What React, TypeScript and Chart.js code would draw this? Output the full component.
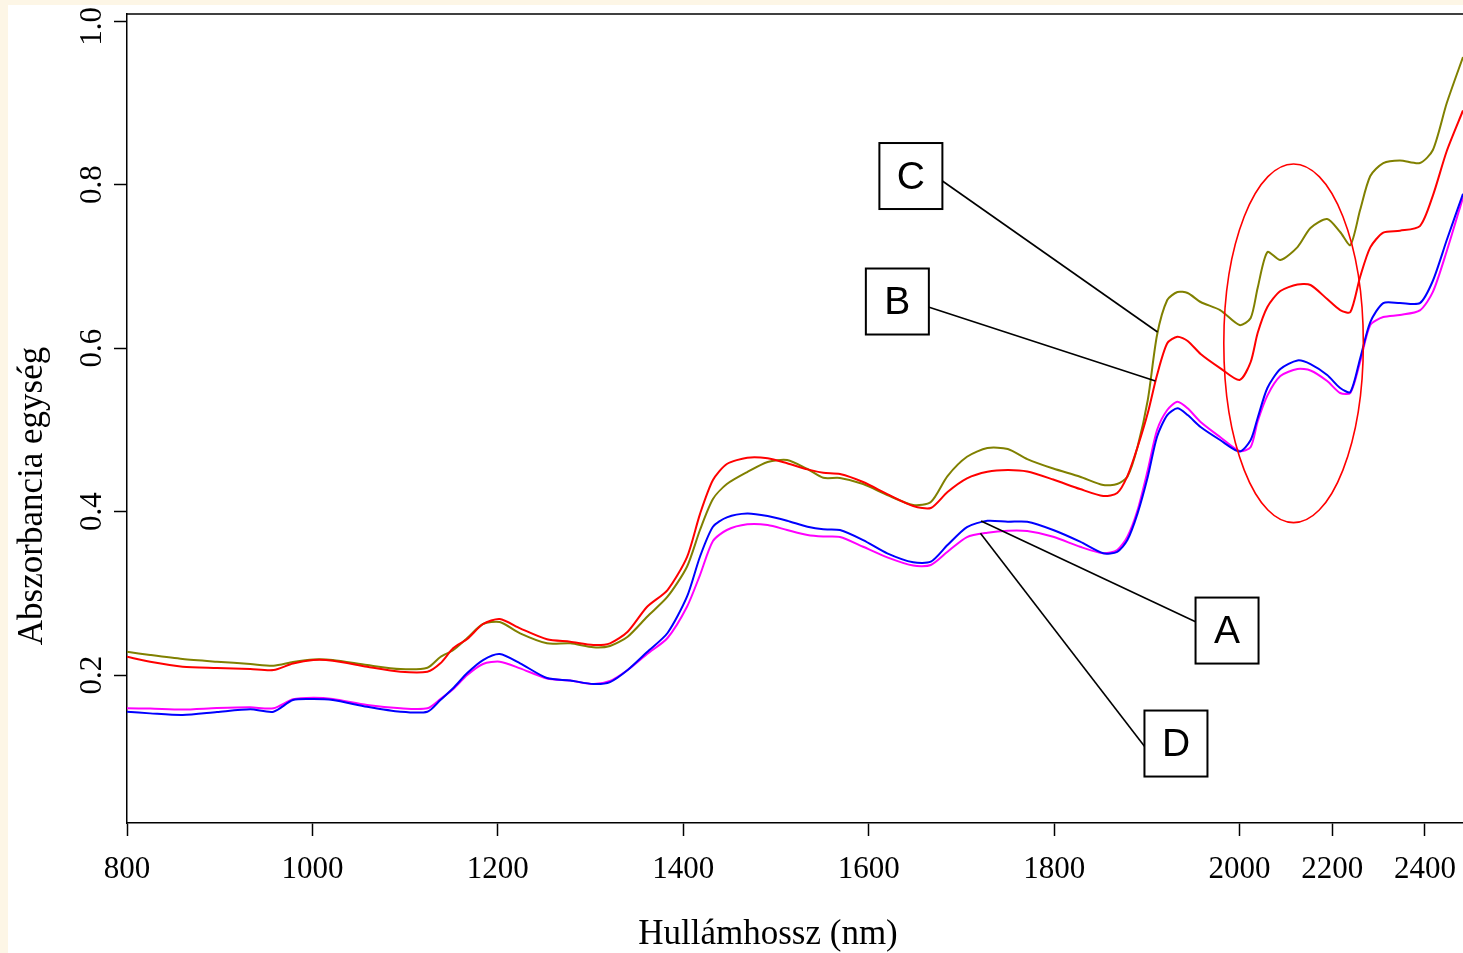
import React, { useEffect, useRef } from "react";
import { Chart, registerables } from "chart.js";

Chart.register(...registerables);

// Wavelengths (nm) sampled along the spectra
const WAVELENGTH_NM = [
  800, 825, 860, 897, 933, 958, 979, 1001, 1022, 1059,
  1095, 1124, 1138, 1152, 1167, 1184, 1202, 1224, 1253, 1278,
  1303, 1321, 1340, 1361, 1383, 1404, 1418, 1432, 1447, 1469,
  1491, 1512, 1534, 1551, 1569, 1594, 1620, 1648, 1667, 1685,
  1706, 1728, 1750, 1771, 1799, 1828, 1853, 1868, 1879, 1890,
  1901, 1911, 1922, 1933, 1944, 1958, 1979, 2000, 2024, 2039,
  2060, 2088, 2125, 2153, 2189, 2217, 2239, 2260, 2282, 2310,
  2346, 2389, 2417, 2447, 2482,
];

// Sample C (olive)
const SERIES_C = [
  0.2285, 0.2245, 0.2196, 0.2163, 0.2135, 0.2114, 0.2159, 0.219, 0.2183, 0.2122,
  0.2073, 0.2089, 0.222, 0.2306, 0.2453, 0.2624, 0.2648, 0.251, 0.2388, 0.2388,
  0.2339, 0.2355, 0.2469, 0.2713, 0.2958, 0.3325, 0.3774, 0.4153, 0.4336, 0.4483,
  0.4606, 0.463, 0.452, 0.4413, 0.441, 0.4336, 0.4202, 0.408, 0.4116, 0.4434,
  0.467, 0.4777, 0.4765, 0.4642, 0.4526, 0.4426, 0.4324, 0.4336, 0.4426, 0.4793,
  0.5364, 0.6159, 0.6587, 0.6685, 0.6673, 0.6563, 0.6465, 0.6281, 0.6367, 0.6734,
  0.7174, 0.7076, 0.7235, 0.7468, 0.7578, 0.7419, 0.726, 0.7688, 0.8104, 0.8263,
  0.8295, 0.8263, 0.8422, 0.8997, 0.956,
];

// Sample B (red)
const SERIES_B = [
  0.2224, 0.2163, 0.2102, 0.2086, 0.2073, 0.2061, 0.2141, 0.2183, 0.2175, 0.2102,
  0.204, 0.204, 0.2143, 0.233, 0.244, 0.2624, 0.2685, 0.2571, 0.2437, 0.2407,
  0.2367, 0.2388, 0.253, 0.2835, 0.304, 0.3443, 0.3969, 0.4385, 0.4581, 0.4658,
  0.4651, 0.459, 0.4516, 0.4475, 0.4459, 0.4361, 0.4214, 0.4067, 0.4043, 0.4239,
  0.4406, 0.4487, 0.4508, 0.4489, 0.4391, 0.4275, 0.419, 0.4226, 0.4434, 0.4789,
  0.5205, 0.567, 0.6058, 0.6138, 0.6086, 0.5927, 0.5755, 0.5609, 0.5829, 0.6183,
  0.6502, 0.6697, 0.6778, 0.6771, 0.6599, 0.6465, 0.644, 0.6869, 0.7231, 0.7412,
  0.7435, 0.7492, 0.7865, 0.841, 0.8906,
];

// Sample A (blue)
const SERIES_A = [
  0.1551, 0.1531, 0.1511, 0.1547, 0.158, 0.1551, 0.1694, 0.1706, 0.1694, 0.1612,
  0.1551, 0.1551, 0.1694, 0.1841, 0.2024, 0.2183, 0.2257, 0.2143, 0.1963, 0.1933,
  0.189, 0.1914, 0.2061, 0.2281, 0.2514, 0.2958, 0.3447, 0.3814, 0.3929, 0.3976,
  0.3945, 0.3887, 0.3814, 0.3782, 0.3774, 0.3651, 0.3489, 0.3379, 0.3386, 0.359,
  0.381, 0.3887, 0.3875, 0.3875, 0.3774, 0.3631, 0.3489, 0.3508, 0.3651, 0.3978,
  0.4426, 0.4915, 0.518, 0.5262, 0.518, 0.5034, 0.4875, 0.4734, 0.4875, 0.5144,
  0.5511, 0.5743, 0.5848, 0.5804, 0.567, 0.5511, 0.5462, 0.587, 0.6318, 0.655,
  0.655, 0.655, 0.6823, 0.7321, 0.7887,
];

// Sample D (magenta)
const SERIES_D = [
  0.1593, 0.159, 0.1578, 0.1596, 0.1605, 0.1593, 0.1703, 0.1722, 0.1706, 0.1633,
  0.1593, 0.1593, 0.1706, 0.1829, 0.2, 0.2135, 0.2163, 0.2082, 0.1957, 0.1933,
  0.189, 0.1927, 0.2061, 0.2257, 0.2453, 0.2835, 0.3223, 0.3639, 0.3774, 0.3843,
  0.3835, 0.3774, 0.3713, 0.3694, 0.3688, 0.3569, 0.344, 0.3339, 0.3346, 0.3508,
  0.3688, 0.3741, 0.3765, 0.3761, 0.3692, 0.3569, 0.3489, 0.3529, 0.3692, 0.4018,
  0.4508, 0.4997, 0.5242, 0.5343, 0.5262, 0.5095, 0.4911, 0.474, 0.4789, 0.5101,
  0.5418, 0.5657, 0.5743, 0.5725, 0.5596, 0.545, 0.545, 0.583, 0.6281, 0.6379,
  0.6404, 0.646, 0.6686, 0.7187, 0.7842,
];

const X_TICKS_NM = [800, 1000, 1200, 1400, 1600, 1800, 2000, 2200, 2400];
const Y_TICKS = [0.2, 0.4, 0.6, 0.8, 1.0];
const X_MAX_NM = 2482;
const Y_MIN = 0.019;
const Y_MAX = 1.0086;

const X_TITLE = "Hullámhossz (nm)";
const Y_TITLE = "Abszorbancia egység";

// Callout labels: box centre, line start and the point on the curve (nm, absorbance)
const CALLOUT_LABELS = ["C", "B", "A", "D"];
const CALLOUT_BOX = [
  [1645.5, 0.8104],
  [1630.9, 0.6569],
  [1986.5, 0.2544],
  [1931.4, 0.1162],
];
const CALLOUT_FROM = [
  [1679.5, 0.8043],
  [1664.4, 0.6501],
  [1952.5, 0.2652],
  [1897.8, 0.1123],
];
const CALLOUT_TO = [
  [1911.5, 0.6196],
  [1909.3, 0.5596],
  [1721.2, 0.3884],
  [1720.5, 0.3733],
];

// Highlighted region (ellipse bounds in nm and absorbance)
const HIGHLIGHT_NM = [1983, 2267];
const HIGHLIGHT_ABS = [0.3864, 0.8251];

// The axis is compressed by a factor of two above 2000 nm
const BREAK_NM = 2000;
const COMPRESS = 2;
const toAxis = (nm: number) => (nm <= BREAK_NM ? nm : BREAK_NM + (nm - BREAK_NM) / COMPRESS);
const fromAxis = (u: number) => (u <= BREAK_NM ? u : BREAK_NM + (u - BREAK_NM) * COMPRESS);

const SERIF = "'Liberation Serif', 'Times New Roman', serif";
const SANS = "'Liberation Sans', Arial, sans-serif";
const PAGE_BG = "#FDF6E6";
const TICK_FONT_SIZE = 31;

const backgroundPlugin = {
  id: "panelBackground",
  beforeDraw(chart: any) {
    const { ctx, width, height } = chart;
    ctx.save();
    ctx.fillStyle = PAGE_BG;
    ctx.fillRect(0, 0, width, height);
    ctx.fillStyle = "#fff";
    ctx.fillRect(8, 5, width - 8, height - 5);
    ctx.restore();
  },
};

const annotationPlugin = {
  id: "annotations",
  afterDatasetsDraw(chart: any) {
    const { ctx, chartArea } = chart;
    const xs = chart.scales.x;
    const ys = chart.scales.y;
    const px = (nm: number) => xs.getPixelForValue(toAxis(nm));
    const py = (v: number) => ys.getPixelForValue(v);

    ctx.save();
    // frame top line
    ctx.strokeStyle = "#000";
    ctx.lineWidth = 1.5;
    ctx.beginPath();
    ctx.moveTo(chartArea.left, chartArea.top);
    ctx.lineTo(chartArea.right, chartArea.top);
    ctx.stroke();

    // ellipse
    const ex0 = px(HIGHLIGHT_NM[0]);
    const ex1 = px(HIGHLIGHT_NM[1]);
    const ey0 = py(HIGHLIGHT_ABS[1]);
    const ey1 = py(HIGHLIGHT_ABS[0]);
    ctx.strokeStyle = "#ff0000";
    ctx.lineWidth = 1.6;
    ctx.beginPath();
    ctx.ellipse((ex0 + ex1) / 2, (ey0 + ey1) / 2, (ex1 - ex0) / 2, (ey1 - ey0) / 2, 0, 0, Math.PI * 2);
    ctx.stroke();

    // callouts
    const bw = 63;
    const bh = 66;
    CALLOUT_LABELS.forEach((label, i) => {
      const cx = px(CALLOUT_BOX[i][0]);
      const cy = py(CALLOUT_BOX[i][1]);
      ctx.strokeStyle = "#000";
      ctx.lineWidth = 1.6;
      ctx.beginPath();
      ctx.moveTo(px(CALLOUT_FROM[i][0]), py(CALLOUT_FROM[i][1]));
      ctx.lineTo(px(CALLOUT_TO[i][0]), py(CALLOUT_TO[i][1]));
      ctx.stroke();
      ctx.fillStyle = "#fff";
      ctx.fillRect(cx - bw / 2, cy - bh / 2, bw, bh);
      ctx.lineWidth = 2;
      ctx.strokeRect(cx - bw / 2, cy - bh / 2, bw, bh);
      ctx.fillStyle = "#000";
      ctx.font = `39px ${SANS}`;
      ctx.textAlign = "center";
      ctx.textBaseline = "middle";
      ctx.fillText(label, cx, cy + 2);
    });
    ctx.restore();
  },
  afterDraw(chart: any) {
    const { ctx } = chart;
    const ys = chart.scales.y;
    ctx.save();
    ctx.fillStyle = "#000";

    // rotated y tick labels (kept inside the white panel)
    ctx.font = `${TICK_FONT_SIZE}px ${SERIF}`;
    ctx.textAlign = "center";
    ctx.textBaseline = "middle";
    Y_TICKS.forEach((v) => {
      const label = v.toFixed(1);
      const w = ctx.measureText(label).width;
      const y = Math.max(ys.getPixelForValue(v), 7 + w / 2);
      ctx.save();
      ctx.translate(93, y);
      ctx.rotate(-Math.PI / 2);
      ctx.fillText(label, 0, 0);
      ctx.restore();
    });

    // axis titles
    ctx.font = `35px ${SERIF}`;
    ctx.fillText(X_TITLE, 768, 935);
    ctx.translate(33, 496);
    ctx.rotate(-Math.PI / 2);
    ctx.fillText(Y_TITLE, 0, 0);
    ctx.restore();
  },
};

const noScalePadding = (s: any) => {
  s.paddingLeft = 0;
  s.paddingRight = 0;
  s.paddingTop = 0;
  s.paddingBottom = 0;
};

export default function App() {
  const canvasRef = useRef<HTMLCanvasElement | null>(null);

  useEffect(() => {
    document.body.style.margin = "0";
    document.body.style.background = PAGE_BG;
    const canvas = canvasRef.current;
    if (!canvas) return;

    const mk = (vals: number[]) => WAVELENGTH_NM.map((nm, i) => ({ x: toAxis(nm), y: vals[i] }));
    const ds = (label: string, vals: number[], color: string, order: number) => ({
      label,
      data: mk(vals),
      borderColor: color,
      backgroundColor: color,
      borderWidth: 2,
      pointRadius: 0,
      tension: 0.25,
      fill: false,
      order,
    });

    const tickFont = { family: SERIF, size: TICK_FONT_SIZE };
    const chart = new Chart(canvas, {
      type: "line",
      data: {
        datasets: [
          ds("C", SERIES_C, "#808000", 4),
          ds("B", SERIES_B, "#ff0000", 3),
          ds("D", SERIES_D, "#ff00ff", 2),
          ds("A", SERIES_A, "#0000ff", 1),
        ],
      },
      options: {
        responsive: false,
        devicePixelRatio: 1,
        animation: false,
        layout: { padding: { top: 14, right: 0, bottom: 0, left: 0 } },
        plugins: { legend: { display: false }, tooltip: { enabled: false } },
        scales: {
          x: {
            type: "linear",
            min: 800,
            max: toAxis(X_MAX_NM),
            afterBuildTicks: (s: any) => {
              s.ticks = X_TICKS_NM.map((nm) => ({ value: toAxis(nm) }));
            },
            afterFit: (s: any) => {
              s.height = 130;
              noScalePadding(s);
            },
            ticks: {
              callback: (v: any) => String(Math.round(fromAxis(Number(v)))),
              font: tickFont,
              color: "#000",
              padding: 15,
              maxRotation: 0,
              autoSkip: false,
            },
            grid: { drawOnChartArea: false, drawTicks: true, tickLength: 13, tickColor: "#000", tickWidth: 1.5 },
            border: { display: true, color: "#000", width: 1.5 },
          },
          y: {
            type: "linear",
            min: Y_MIN,
            max: Y_MAX,
            afterBuildTicks: (s: any) => {
              s.ticks = Y_TICKS.map((v) => ({ value: v }));
            },
            afterFit: (s: any) => {
              s.width = 127;
              noScalePadding(s);
            },
            ticks: { display: false },
            grid: { drawOnChartArea: false, drawTicks: true, tickLength: 13, tickColor: "#000", tickWidth: 1.5 },
            border: { display: true, color: "#000", width: 1.5 },
          },
        },
      },
      plugins: [backgroundPlugin, annotationPlugin],
    } as any);

    return () => chart.destroy();
  }, []);

  return (
    <div>
      <canvas ref={canvasRef} width={1463} height={953} style={{ display: "block" }} />
    </div>
  );
}
